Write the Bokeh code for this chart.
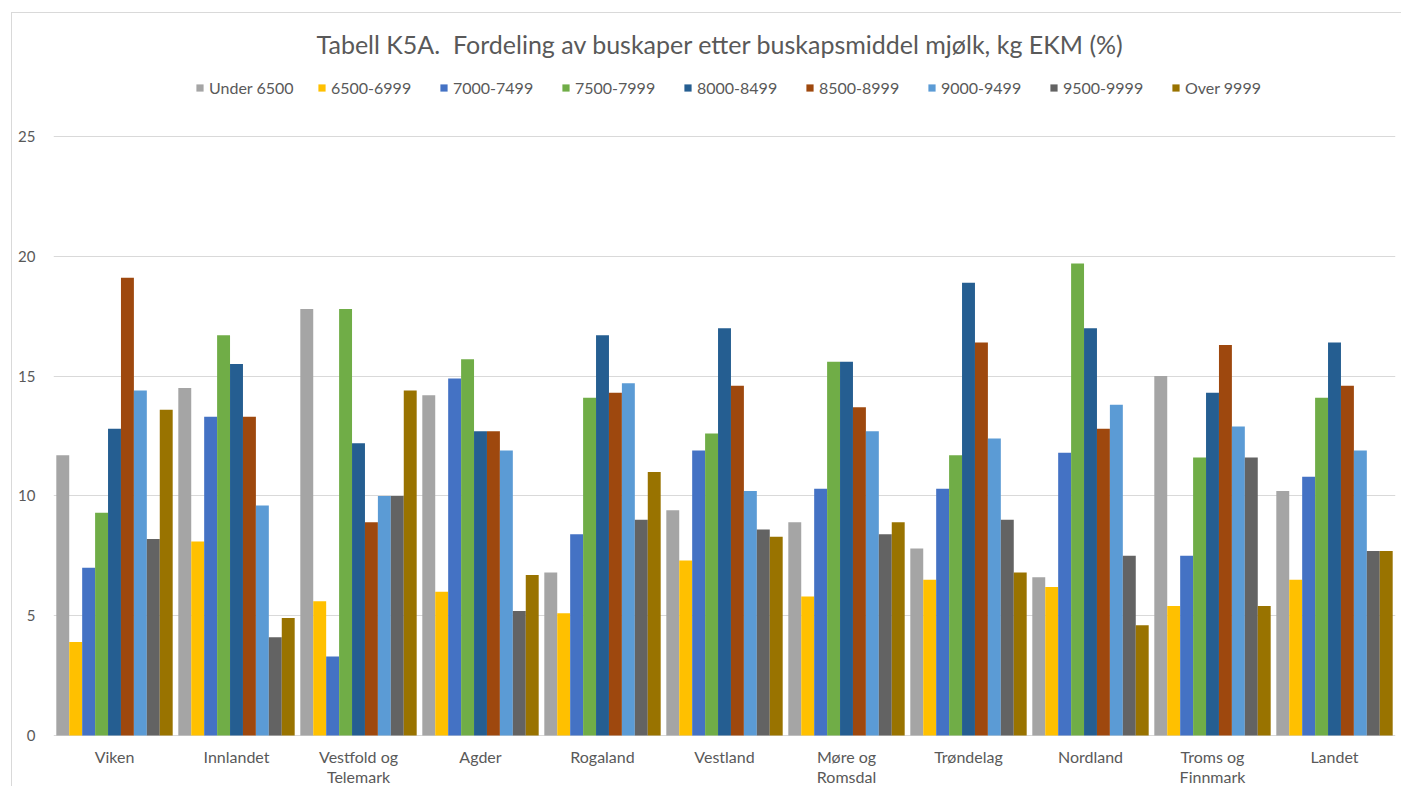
from bokeh.plotting import figure
from bokeh.models import FactorRange, Legend, LegendItem, Label, ColumnDataSource
from bokeh.transform import dodge
from bokeh.core.properties import value
from bokeh.embed import file_html
from bokeh.resources import INLINE

categories = ["Viken", "Innlandet", "Vestfold og Telemark", "Agder", "Rogaland", "Vestland",
              "Møre og Romsdal", "Trøndelag", "Nordland", "Troms og Finnmark", "Landet"]
label_line1 = ["Viken", "Innlandet", "Vestfold og", "Agder", "Rogaland", "Vestland",
               "Møre og", "Trøndelag", "Nordland", "Troms og", "Landet"]
label_line2 = ["", "", "Telemark", "", "", "", "Romsdal", "", "", "Finnmark", ""]
series_names = ["Under 6500", "6500-6999", "7000-7499", "7500-7999", "8000-8499",
                "8500-8999", "9000-9499", "9500-9999", "Over 9999"]
colors = ["#A5A5A5", "#FFC000", "#4472C4", "#70AD47", "#255E91",
          "#9E480E", "#5B9BD5", "#636363", "#997300"]

under_6500 = [11.7, 14.5, 17.8, 14.2, 6.8, 9.4, 8.9, 7.8, 6.6, 15.0, 10.2]
s6500_6999 = [3.9, 8.1, 5.6, 6.0, 5.1, 7.3, 5.8, 6.5, 6.2, 5.4, 6.5]
s7000_7499 = [7.0, 13.3, 3.3, 14.9, 8.4, 11.9, 10.3, 10.3, 11.8, 7.5, 10.8]
s7500_7999 = [9.3, 16.7, 17.8, 15.7, 14.1, 12.6, 15.6, 11.7, 19.7, 11.6, 14.1]
s8000_8499 = [12.8, 15.5, 12.2, 12.7, 16.7, 17.0, 15.6, 18.9, 17.0, 14.3, 16.4]
s8500_8999 = [19.1, 13.3, 8.9, 12.7, 14.3, 14.6, 13.7, 16.4, 12.8, 16.3, 14.6]
s9000_9499 = [14.4, 9.6, 10.0, 11.9, 14.7, 10.2, 12.7, 12.4, 13.8, 12.9, 11.9]
s9500_9999 = [8.2, 4.1, 10.0, 5.2, 9.0, 8.6, 8.4, 9.0, 7.5, 11.6, 7.7]
over_9999 = [13.6, 4.9, 14.4, 6.7, 11.0, 8.3, 8.9, 6.8, 4.6, 5.4, 7.7]

series_values = [under_6500, s6500_6999, s7000_7499, s7500_7999, s8000_8499,
                 s8500_8999, s9000_9499, s9500_9999, over_9999]
y_ticks = [0, 5, 10, 15, 20, 25]

data = {"cat": categories, "l1": label_line1, "l2": label_line2}
for i, vals in enumerate(series_values):
    data[f"s{i}"] = vals
source = ColumnDataSource(data)

FONT = "Lato"
TXT = "#595959"

# frame spans the full figure height; y=0 at 735px, y=25 at 136px from the top
PX = (735 - 136) / 25.0
H = 786
W = 1401
p = figure(x_range=FactorRange(*categories, range_padding=0),
           y_range=(-(H - 735) / PX, 25 + 136 / PX),
           width=W, height=H, output_backend="svg", toolbar_location=None,
           min_border_left=53, min_border_right=W - 1395, min_border_top=0, min_border_bottom=0)
p.outline_line_color = None
p.xaxis.visible = False
p.background_fill_alpha = 0
p.border_fill_alpha = 0

bw = 0.106
renderers = []
for i, name in enumerate(series_names):
    r = p.vbar(x=dodge("cat", (i - 4) * bw, range=p.x_range), top=f"s{i}", width=bw,
               source=source, fill_color=colors[i], line_color=None)
    renderers.append(r)

p.xgrid.grid_line_color = None
p.ygrid.grid_line_color = "#D9D9D9"
p.ygrid.grid_line_width = 1
p.yaxis.ticker = y_ticks
p.yaxis.axis_line_color = None
p.yaxis.major_tick_line_color = None
p.yaxis.minor_tick_line_color = None
p.yaxis.major_label_text_font = FONT
p.yaxis.major_label_text_font_size = "15px"
p.yaxis.major_label_text_color = TXT
p.yaxis.major_label_standoff = 12

# category labels (two lines)
p.text(x="cat", y=-(756 - 735) / PX, text="l1", source=source, text_font=value(FONT),
       text_font_size="16px", text_color=TXT, text_align="center", text_baseline="middle")
p.text(x="cat", y=-(776 - 735) / PX, text="l2", source=source, text_font=value(FONT),
       text_font_size="16px", text_color=TXT, text_align="center", text_baseline="middle")

title = Label(x=720 - 53, y=H - 43, x_units="screen", y_units="screen",
              text="Tabell K5A.\u00a0 Fordeling av buskaper etter buskapsmiddel mjølk, kg EKM (%)",
              text_font=FONT, text_font_size="25px", text_color=TXT,
              text_align="center", text_baseline="middle")
p.add_layout(title)

legend = Legend(items=[LegendItem(label=n, renderers=[r]) for n, r in zip(series_names, renderers)],
                orientation="horizontal", location=(142, H - 97),
                glyph_width=9, glyph_height=9, label_standoff=5, label_width=101, spacing=7,
                label_text_font=FONT, label_text_font_size="16px", label_text_color=TXT,
                border_line_color=None, background_fill_alpha=0, padding=4, margin=0)
p.add_layout(legend)

# chart-area border (top-left corner at 11,12), drawn behind the transparent canvas
p.styles = {"box-shadow": "inset 11px 12px 0 0 #FFFFFF, inset 12px 13px 0 0 #D9D9D9",
            "background-color": "#FFFFFF"}

open("out.html", "w").write(file_html(p, INLINE))
